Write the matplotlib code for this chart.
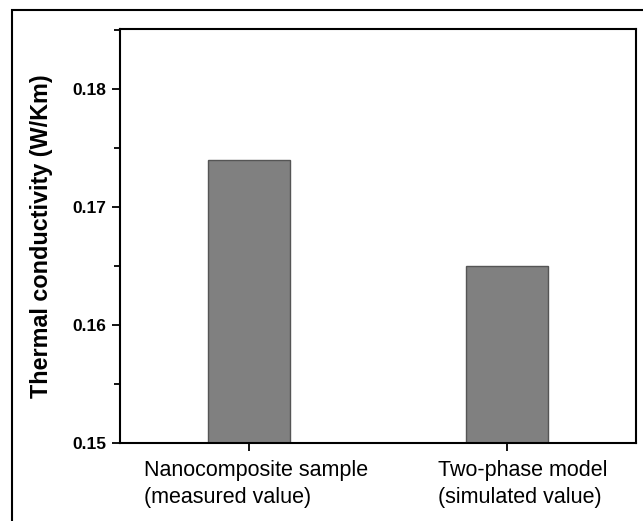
import matplotlib
matplotlib.use('Agg')
import matplotlib.pyplot as plt
from matplotlib.patches import Rectangle
from matplotlib.ticker import MultipleLocator
from matplotlib.transforms import ScaledTranslation

# Data
categories = ['Nanocomposite sample\n(measured value)', 'Two-phase model\n(simulated value)']
positions = [1, 2]
conductivity = [0.174, 0.165]

plt.rcParams['font.family'] = ['Liberation Sans', 'DejaVu Sans']

fig = plt.figure(figsize=(6.43, 5.21), dpi=100)
ax = fig.add_axes([0.1866, 0.150, 0.8024, 0.794])

ax.bar(positions, [v - 0.15 for v in conductivity], bottom=0.15, width=0.32,
       color='#808080', edgecolor='#555555', linewidth=1.0)

ax.set_xlim(0.5, 2.5)
ax.set_ylim(0.15, 0.1851)
ax.set_xticks(positions)
ax.set_xticklabels(categories, fontsize=15.5, linespacing=1.42, multialignment='left')
ax.set_yticks([0.15, 0.16, 0.17, 0.18])
ax.set_yticklabels(['0.15', '0.16', '0.17', '0.18'], fontsize=12.5, fontweight='bold')
ax.yaxis.set_minor_locator(MultipleLocator(0.005))
ax.tick_params(axis='both', which='major', direction='out', length=6, width=1.3)
ax.tick_params(axis='y', which='minor', direction='out', length=4, width=1.3)
ax.tick_params(axis='x', pad=6)
ax.tick_params(axis='y', pad=4)

# labels sit a little right of their ticks in the original
for lab, dx in zip(ax.get_xticklabels(), [0.075, 0.16]):
    lab.set_transform(lab.get_transform() + ScaledTranslation(dx, 0, fig.dpi_scale_trans))

for s in ax.spines.values():
    s.set_linewidth(1.5)

ax.set_ylabel('Thermal conductivity (W/Km)', fontsize=16.8, fontweight='bold', labelpad=14)

# outer frame of the figure panel
frame = Rectangle((12 / 643, -0.1), 1.2, 1 - 10 / 521 + 0.1, transform=fig.transFigure,
                  fill=False, edgecolor='black', linewidth=1.5, clip_on=False)
fig.patches.append(frame)

plt.savefig('out.png', dpi=100)
